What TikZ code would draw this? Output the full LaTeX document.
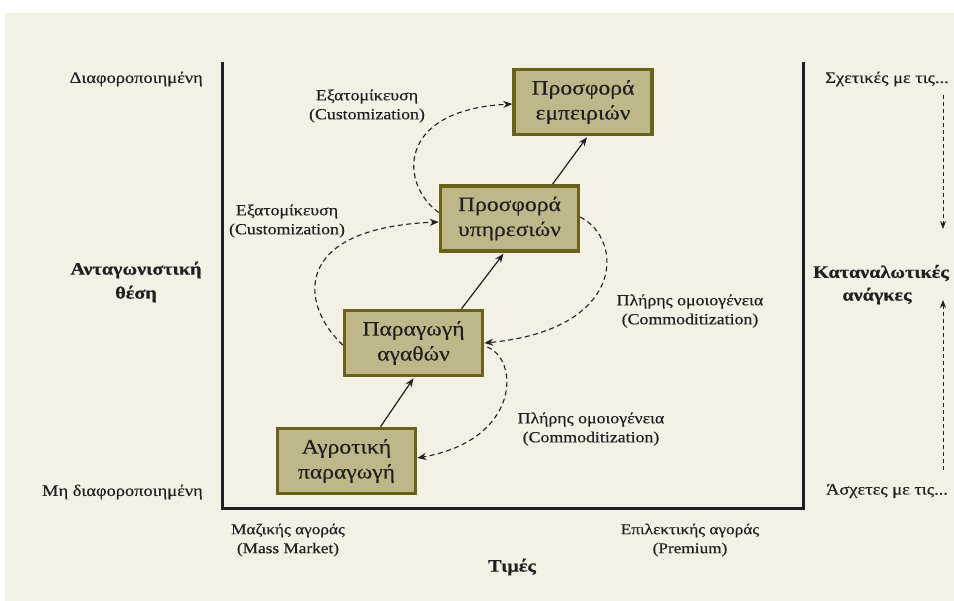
\documentclass[tikz,border=0pt]{standalone}
\usepackage{fontspec}
\setmainfont{Liberation Serif}[FakeStretch=1.15, UprightFeatures={FakeBold=0.4}, BoldFeatures={FakeBold=0.6}]
\usetikzlibrary{arrows.meta}
\definecolor{paper}{RGB}{243,240,229}
\definecolor{boxfill}{RGB}{190,183,138}
\definecolor{boxline}{RGB}{104,98,26}
\definecolor{ink}{RGB}{35,31,32}
\begin{document}
\begin{tikzpicture}[x=1pt,y=-1pt,
  stage/.style={draw=boxline, fill=boxfill, line width=3.5pt,
    minimum width=138pt, minimum height=65pt, inner sep=0pt,
    align=center, text=ink, font=\fontsize{20.5}{25}\selectfont},
  lbl/.style={align=center, text=ink, inner sep=0pt,
    font=\fontsize{15.5}{19}\selectfont},
  axislbl/.style={lbl, font=\fontsize{16}{19}\selectfont},
  title/.style={lbl, font=\bfseries\fontsize{17.5}{24}\selectfont},
  step arrow/.style={draw=ink, line width=1.2pt,
    -{Stealth[length=9pt,width=7pt]}},
  shift arrow/.style={draw=ink, line width=1.1pt, dash pattern=on 5pt off 3.5pt,
    -{Stealth[length=9pt,width=7pt]}},
  need arrow/.style={draw=ink, line width=0.9pt, dash pattern=on 4pt off 3pt,
    -{Stealth[length=8pt,width=6pt]}}
]
\clip (0,0) rectangle (954,601);
\fill[white] (0,0) rectangle (954,601);
\fill[paper] (5,13) rectangle (954,601);

% axes frame
\draw[ink, line width=3pt] (222,62) -- (222,509) -- (803,509) -- (803,62);

% stages
\node[stage] (b1) at (346.5,461) {Αγροτική\\παραγωγή};
\node[stage] (b2) at (413.5,343) {Παραγωγή\\αγαθών};
\node[stage] (b3) at (509.5,218.5) {Προσφορά\\υπηρεσιών};
\node[stage] (b4) at (583,102) {Προσφορά\\εμπειριών};

% progression
\draw[step arrow] ([xshift=34pt]b1.north) -- ([xshift=0pt,yshift=-1pt]b2.south);
\draw[step arrow] ([xshift=48pt]b2.north) -- ([xshift=-6pt,yshift=-1pt]b3.south);
\draw[step arrow] ([xshift=43pt]b3.north) -- ([xshift=4pt,yshift=-1pt]b4.south);

% customization loops
\draw[shift arrow] ([yshift=-2pt]b2.west) .. controls (300,305) and (290,228) .. ([yshift=-3.5pt]b3.west);
\draw[shift arrow] ([yshift=6pt]b3.west) .. controls (400,185) and (395,110) .. ([yshift=-2pt]b4.west);

% commoditization loops
\draw[shift arrow] ([yshift=1.5pt]b3.east) .. controls (625,240) and (625,330) .. (b2.east);
\draw[shift arrow] ([xshift=3pt,yshift=-4pt]b2.east) .. controls (520,360) and (520,440) .. ([yshift=3pt]b1.east);

% loop labels
\node[lbl] (c1) at (367,106) {Εξατομίκευση\\(Customization)};
\node[lbl] (c2) at (287,221) {Εξατομίκευση\\(Customization)};
\node[lbl] (m1) at (690,311) {Πλήρης ομοιογένεια\\(Commoditization)};
\node[lbl] (m2) at (591,429) {Πλήρης ομοιογένεια\\(Commoditization)};

% vertical axis
\node[axislbl, anchor=east] (dif) at (203,79) {Διαφοροποιημένη};
\node[title] (pos) at (136,282) {Ανταγωνιστική\\θέση};
\node[axislbl, anchor=east] (undif) at (203,492) {Μη διαφοροποιημένη};

% horizontal axis
\node[axislbl, font=\fontsize{15}{19}\selectfont] (mass) at (288,540) {Μαζικής αγοράς\\(Mass Market)};
\node[axislbl, font=\fontsize{15}{19}\selectfont] (prem) at (690,540) {Επιλεκτικής αγοράς\\(Premium)};
\node[title] (price) at (512,567) {Τιμές};

% consumer needs axis
\node[axislbl] (rel) at (887,79) {Σχετικές με τις...};
\node[title, anchor=west] (needs1) at (813,273) {Καταναλωτικές};
\node[title] (needs2) at (877,296) {ανάγκες};
\node[axislbl] (unrel) at (887,491) {Άσχετες με τις...};
\coordinate (upA) at (943,95);
\coordinate (upB) at (943,229);
\coordinate (loA) at (943,470);
\coordinate (loB) at (943,300);
\draw[need arrow] (upA) -- (upB);
\draw[need arrow] (loA) -- (loB);
\end{tikzpicture}
\end{document}
